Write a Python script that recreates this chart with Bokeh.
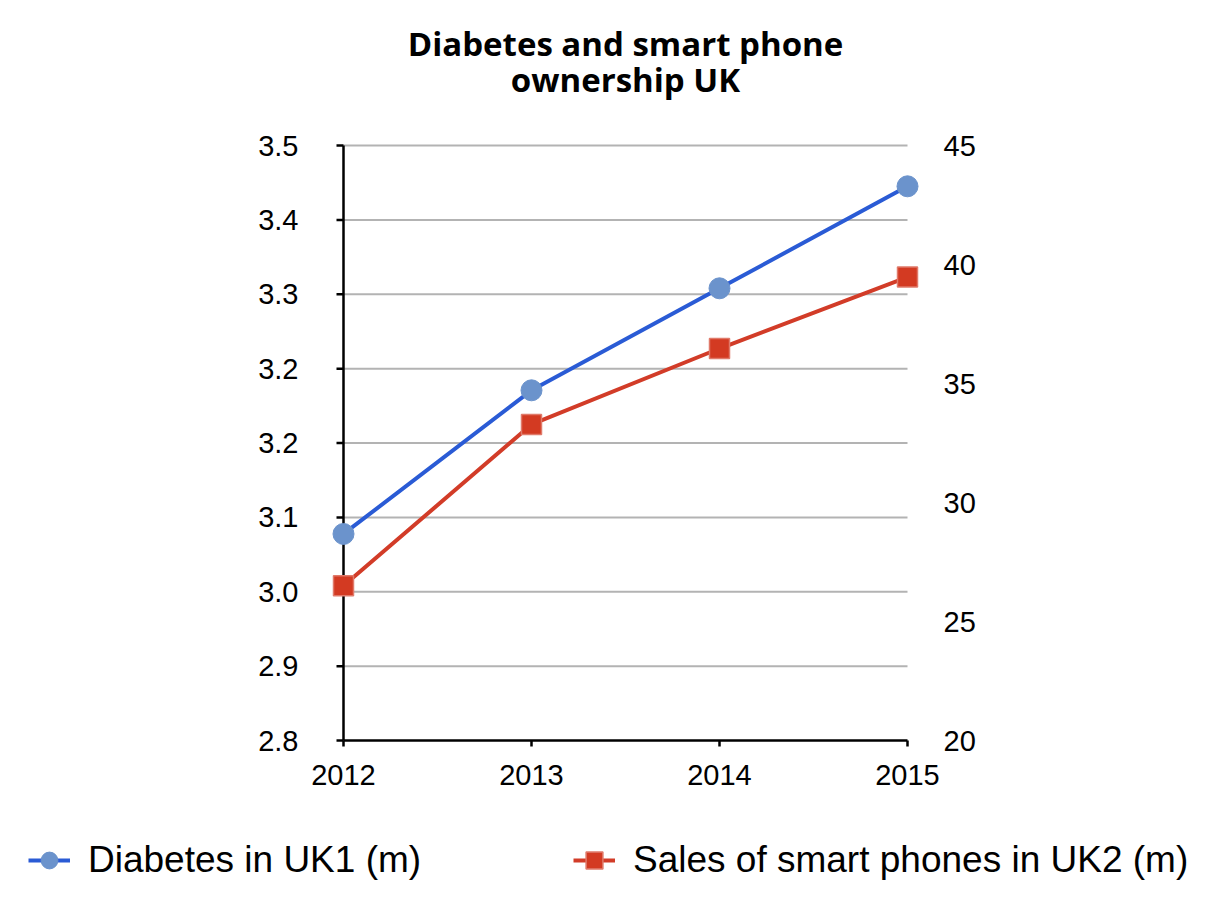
import numpy as np
from bokeh.plotting import figure
from bokeh.models import (LinearAxis, Range1d, FixedTicker, Legend, LegendItem, Label)
from bokeh.embed import file_html
from bokeh.resources import INLINE

years = [2012, 2013, 2014, 2015]
diabetes = [3.043, 3.212, 3.332, 3.452]
sales = [26.5, 33.28, 36.47, 39.47]
left_ticks = [2.8 + i * 0.0875 for i in range(9)]
left_labels = ["2.8", "2.9", "3.0", "3.1", "3.2", "3.2", "3.3", "3.4", "3.5"]
right_ticks = [20, 25, 30, 35, 40, 45]
title_lines = ["Diabetes and smart phone", "ownership UK"]
series_names = ["Diabetes in UK1 (m)", "Sales of smart phones in UK2 (m)"]

FONT = "Liberation Sans"
X0, X1 = 2012, 2015
Y0, Y1 = 2.8, 3.5
R0, R1 = 20, 45
BLUE_LINE, BLUE_FILL = "#2a5bd5", "#6b93cc"
RED_LINE, RED_FILL, RED_EDGE = "#d23c28", "#d33a22", "#e07a6a"

# geometry in pixels: plot area 343..907 x 145..740, frame extended upward to the top
AREA_W, AREA_H = 564, 595
AREA_LEFT, AREA_TOP = 343, 145
PAD_L, PAD_R, PAD_T, PAD_B = 14, 14, AREA_TOP, 10
FW, FH = AREA_W + PAD_L + PAD_R, AREA_H + PAD_T + PAD_B
LEFT = AREA_LEFT - PAD_L
TOTAL_W = 1220
BOTTOM = 60
LEG_H = 90

xs = (X1 - X0) / AREA_W
ys = (Y1 - Y0) / AREA_H
rs = (R1 - R0) / AREA_H

p = figure(frame_width=FW, frame_height=FH, output_backend="svg",
           toolbar_location=None,
           x_range=Range1d(X0 - PAD_L * xs, X1 + PAD_R * xs),
           y_range=Range1d(Y0 - PAD_B * ys, Y1 + PAD_T * ys), title=None,
           min_border_left=LEFT, min_border_top=0,
           min_border_right=TOTAL_W - LEFT - FW, min_border_bottom=BOTTOM)
p.outline_line_color = None
p.background_fill_color = "white"
p.border_fill_color = "white"
p.extra_y_ranges = {"right": Range1d(R0 - PAD_B * rs, R1 + PAD_T * rs)}
p.xgrid.grid_line_color = None
p.ygrid.grid_line_color = None

def style_labels_only(ax, size, standoff):
    ax.axis_line_color = None
    ax.major_tick_line_color = None
    ax.minor_tick_line_color = None
    ax.major_tick_in = 0
    ax.major_tick_out = 0
    ax.major_label_text_font = FONT
    ax.major_label_text_font_size = size
    ax.major_label_text_color = "black"
    ax.major_label_standoff = standoff

xa = p.xaxis[0]
xa.ticker = FixedTicker(ticks=years)
xa.major_label_overrides = {y: str(y) for y in years}
style_labels_only(xa, "29px", 14)

ya = p.yaxis[0]
ya.ticker = FixedTicker(ticks=left_ticks)
ya.major_label_overrides = {t: l for t, l in zip(left_ticks, left_labels)}
style_labels_only(ya, "29px", 31)

ra = LinearAxis(y_range_name="right", ticker=FixedTicker(ticks=right_ticks))
style_labels_only(ra, "29px", 22)
p.add_layout(ra, "right")

# gridlines, axis lines and tick marks
p.segment(x0=[X0] * 8, x1=[X1] * 8, y0=left_ticks[1:], y1=left_ticks[1:],
          line_color="#b3b3b3", line_width=2)
p.segment(x0=[X0, X0], y0=[Y0, Y0], x1=[X0, X1], y1=[Y1, Y0],
          line_color="black", line_width=2.5)
p.ray(x=[X0] * 9, y=left_ticks, length=7, length_units="screen", angle=np.pi,
      line_color="black", line_width=2.5)
p.ray(x=years, y=[Y0] * 4, length=6, length_units="screen", angle=-np.pi / 2,
      line_color="black", line_width=2.5)

p.line(years, diabetes, line_color=BLUE_LINE, line_width=4)
p.scatter(years, diabetes, marker="circle", size=21, fill_color=BLUE_FILL,
          line_color=BLUE_FILL)
p.line(years, sales, line_color=RED_LINE, line_width=4, y_range_name="right")
p.scatter(years, sales, marker="square", size=20, fill_color=RED_FILL,
          line_color=RED_EDGE, line_width=1.5, y_range_name="right")

# two-line centred title
for txt, base in zip(title_lines, [43, 79]):
    p.add_layout(Label(x=(X0 + X1) / 2, y=Y1 + (AREA_TOP - base) * ys, text=txt,
                       text_align="center", text_baseline="alphabetic",
                       text_font="Open Sans", text_font_style="bold",
                       text_font_size="33px", text_color="black"))

# legend strip below the chart (its renderers hold the series but lie outside its view)
q = figure(width=TOTAL_W, height=LEG_H, output_backend="svg", toolbar_location=None,
           x_range=Range1d(0, 1), y_range=Range1d(0, 1), min_border=0,
           x_axis_location=None, y_axis_location=None, title=None)
q.outline_line_color = None
q.xgrid.grid_line_color = None
q.ygrid.grid_line_color = None
ql1 = q.line(years, diabetes, line_color=BLUE_LINE, line_width=4)
qm1 = q.scatter(years, diabetes, marker="circle", size=21, fill_color=BLUE_FILL,
                line_color=BLUE_FILL)
ql2 = q.line(years, sales, line_color=RED_LINE, line_width=4)
qm2 = q.scatter(years, sales, marker="square", size=20, fill_color=RED_FILL,
                line_color=RED_EDGE, line_width=1.5)

for name, rends, lx in [(series_names[0], [ql1, qm1], 28), (series_names[1], [ql2, qm2], 573)]:
    lg = Legend(items=[LegendItem(label=name, renderers=rends)],
                location=(lx, 19), orientation="horizontal",
                label_text_font=FONT, label_text_font_size="37px",
                label_text_color="black", glyph_width=42, glyph_height=42,
                label_standoff=18, padding=0, margin=0, border_line_color=None,
                background_fill_alpha=0)
    q.add_layout(lg, "center")

open("out.html", "w").write(file_html([p, q], INLINE))
